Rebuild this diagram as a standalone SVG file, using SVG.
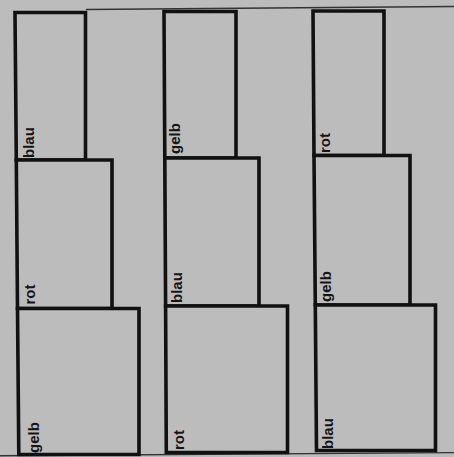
<svg xmlns="http://www.w3.org/2000/svg" width="454" height="457" viewBox="0 0 454 457">
<style>
.box{fill:#bcbcbc;stroke:#111;stroke-width:3.6;stroke-linejoin:miter}
.lbl{font-family:"Liberation Sans",Arial,sans-serif;font-weight:bold;font-size:15px;fill:#151515}
.thin{stroke:#333;stroke-width:1.4;fill:none}
</style>
<rect x="0" y="0" width="454" height="457" fill="#bcbcbc"/>
<g id="edges">
<line class="thin" x1="86" y1="9.5" x2="454" y2="6.5"/>
<line class="thin" x1="0" y1="455.8" x2="454" y2="452.6"/>
</g>
<g id="c1-blau"><polygon class="box" points="15,12.5 85.5,12.5 85.5,160 16.3,160"/><text class="lbl" transform="translate(33.5,158) rotate(-90)">blau</text></g>
<g id="c1-rot"><polygon class="box" points="16.3,160 112,160 112,308.5 17.5,308.5"/><text class="lbl" transform="translate(34.5,304.5) rotate(-90)">rot</text></g>
<g id="c1-gelb"><polygon class="box" points="17.5,308.5 139,308.5 139,454.5 18.8,454.5"/><text class="lbl" transform="translate(39,453) rotate(-90)">gelb</text></g>
<g id="c2-gelb"><polygon class="box" points="164,11.5 236,11.5 236,158 164.8,158"/><text class="lbl" transform="translate(180,154) rotate(-90)">gelb</text></g>
<g id="c2-blau"><polygon class="box" points="164.8,158 259,158 259,306 165.6,306"/><text class="lbl" transform="translate(181.5,303) rotate(-90)">blau</text></g>
<g id="c2-rot"><polygon class="box" points="165.6,306 287.5,306 287.5,452.5 166.3,452.5"/><text class="lbl" transform="translate(183.5,450) rotate(-90)">rot</text></g>
<g id="c3-rot"><polygon class="box" points="313,11 384,11 384,155.5 314,155.5"/><text class="lbl" transform="translate(329.5,153) rotate(-90)">rot</text></g>
<g id="c3-gelb"><polygon class="box" points="314,155.5 410,155.5 410,305 315.3,305"/><text class="lbl" transform="translate(330.5,302) rotate(-90)">gelb</text></g>
<g id="c3-blau"><polygon class="box" points="315.3,305 435.5,305 435.5,450.5 316.5,450.5"/><text class="lbl" transform="translate(332.5,449) rotate(-90)">blau</text></g>
</svg>
